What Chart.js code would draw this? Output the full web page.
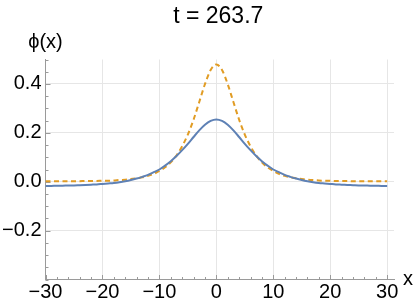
<!DOCTYPE html>
<html><head><meta charset="utf-8">
<script src="https://cdn.jsdelivr.net/npm/chart.js@4"></script>
<style>html,body{margin:0;padding:0;background:#fff;}canvas{display:block;}</style>
</head><body>
<canvas id="c" width="415" height="307"></canvas>
<script>
// ---- data ----
const xValues = [-30,-29,-28,-27,-26,-25,-24,-23,-22,-21,-20,-19,-18,-17,-16,-15,-14,-13,-12,-11,-10,-9,-8,-7,-6,-5,-4,-3,-2,-1,
  0,1,2,3,4,5,6,7,8,9,10,11,12,13,14,15,16,17,18,19,20,21,22,23,24,25,26,27,28,29,30];
const phiSolid = [-0.017,-0.017,-0.016,-0.016,-0.015,-0.015,-0.014,-0.013,-0.012,-0.011,-0.009,-0.007,-0.005,-0.002,0.002,0.007,0.013,0.020,0.028,0.039,0.050,0.066,0.084,0.105,0.129,0.155,0.183,0.210,0.233,0.249,
  0.255,0.249,0.233,0.210,0.183,0.155,0.129,0.105,0.084,0.066,0.050,0.039,0.028,0.020,0.013,0.007,0.002,-0.002,-0.005,-0.007,-0.009,-0.011,-0.012,-0.013,-0.014,-0.015,-0.015,-0.016,-0.016,-0.017,-0.017];
const phiDashed = [0.002,0.002,0.002,0.002,0.002,0.002,0.002,0.003,0.003,0.003,0.004,0.004,0.005,0.007,0.008,0.011,0.014,0.018,0.024,0.032,0.044,0.059,0.079,0.107,0.145,0.193,0.254,0.326,0.399,0.457,
  0.480,0.457,0.399,0.326,0.254,0.193,0.145,0.107,0.079,0.059,0.044,0.032,0.024,0.018,0.014,0.011,0.008,0.007,0.005,0.004,0.004,0.003,0.003,0.003,0.002,0.002,0.002,0.002,0.002,0.002,0.002];
const xTickValues = [-30,-20,-10,0,10,20,30];
const xTickLabels = ['\u221230','\u221220','\u221210','0','10','20','30'];
const yTickValues = [-0.2,0,0.2,0.4];
const yTickLabels = ['\u22120.2','0.0','0.2','0.4'];
const xMinorStep = 2;
const yMinorStep = 0.05;
const titleText = 't = 263.7';
const yAxisLabel = '\u03D5(x)';
const xAxisLabel = 'x';

const FONT = '"Liberation Sans", Arial, "DejaVu Sans", sans-serif';
const AXIS_COLOR = '#9a9a9a';
const GRID_COLOR = '#e6e6e6';

const decor = {
  id: 'decor',
  beforeDatasetsDraw(chart) {
    const {ctx, chartArea: a, scales: {x, y}} = chart;
    ctx.save();
    ctx.strokeStyle = AXIS_COLOR;
    ctx.lineWidth = 1;
    ctx.beginPath();
    // x-axis ticks (pointing up, inside)
    for (let v = x.min; v <= 30 + 1e-9; v += xMinorStep) {
      const major = xTickValues.some(t => Math.abs(t - v) < 1e-9);
      const px = Math.round(x.getPixelForValue(v)) + 0.5;
      const len = major ? 4.5 : 2.5;
      ctx.moveTo(px, a.bottom);
      ctx.lineTo(px, a.bottom - len);
    }
    // y-axis ticks (pointing right, inside)
    for (let v = y.min; v <= y.max + 1e-9; v += yMinorStep) {
      const major = yTickValues.some(t => Math.abs(t - v) < 1e-9);
      const py = Math.round(y.getPixelForValue(v)) + 0.5;
      const len = major ? 5 : 3;
      ctx.moveTo(a.left, py);
      ctx.lineTo(a.left + len, py);
    }
    ctx.stroke();
    ctx.restore();
  },
  afterDraw(chart) {
    const {ctx, chartArea: a} = chart;
    ctx.save();
    ctx.fillStyle = '#000';
    ctx.textBaseline = 'alphabetic';
    ctx.font = '23px ' + FONT;
    ctx.textAlign = 'center';
    ctx.fillText(titleText, (a.left + a.right) / 2 - 1.5, 23);
    ctx.font = '20px ' + FONT;
    ctx.fillText(yAxisLabel, a.left, 48);
    ctx.textAlign = 'left';
    ctx.fillText(xAxisLabel, 403, 285);
    ctx.restore();
  }
};

new Chart(document.getElementById('c'), {
  type: 'line',
  data: {
    datasets: [
      {
        data: xValues.map((v, i) => ({x: v, y: phiSolid[i]})),
        borderColor: '#5E81B5',
        borderWidth: 2,
        pointRadius: 0,
        cubicInterpolationMode: 'monotone',
        fill: false
      },
      {
        data: xValues.map((v, i) => ({x: v, y: phiDashed[i]})),
        borderColor: '#E19C24',
        borderWidth: 2,
        borderDash: [5, 3.5],
        pointRadius: 0,
        cubicInterpolationMode: 'monotone',
        fill: false
      }
    ]
  },
  options: {
    responsive: false,
    animation: false,
    devicePixelRatio: 1,
    layout: {padding: {top: 59.5, right: 21, left: 0, bottom: 0}},
    plugins: {legend: {display: false}, tooltip: {enabled: false}, title: {display: false}},
    scales: {
      x: {
        type: 'linear',
        min: -30,
        max: 31.2,
        afterFit(s) { s.height = 27.5; },
        afterBuildTicks(s) { s.ticks = xTickValues.map(v => ({value: v})); },
        ticks: {
          autoSkip: false,
          maxRotation: 0,
          padding: 1,
          color: '#000',
          font: {family: FONT, size: 20},
          callback: (v) => { const i = xTickValues.indexOf(v); return i >= 0 ? xTickLabels[i] : ''; }
        },
        grid: {color: GRID_COLOR, drawTicks: false, lineWidth: 1},
        border: {display: true, color: AXIS_COLOR, width: 1}
      },
      y: {
        type: 'linear',
        min: -0.4,
        max: 0.5,
        afterFit(s) { s.width = 45.5; },
        afterBuildTicks(s) { s.ticks = yTickValues.map(v => ({value: v})); },
        ticks: {
          autoSkip: false,
          padding: 4,
          color: '#000',
          font: {family: FONT, size: 20},
          callback: (v) => { const i = yTickValues.findIndex(t => Math.abs(t - v) < 1e-9); return i >= 0 ? yTickLabels[i] : ''; }
        },
        grid: {color: GRID_COLOR, drawTicks: false, lineWidth: 1},
        border: {display: true, color: AXIS_COLOR, width: 1}
      }
    }
  },
  plugins: [decor]
});
</script>
</body></html>
